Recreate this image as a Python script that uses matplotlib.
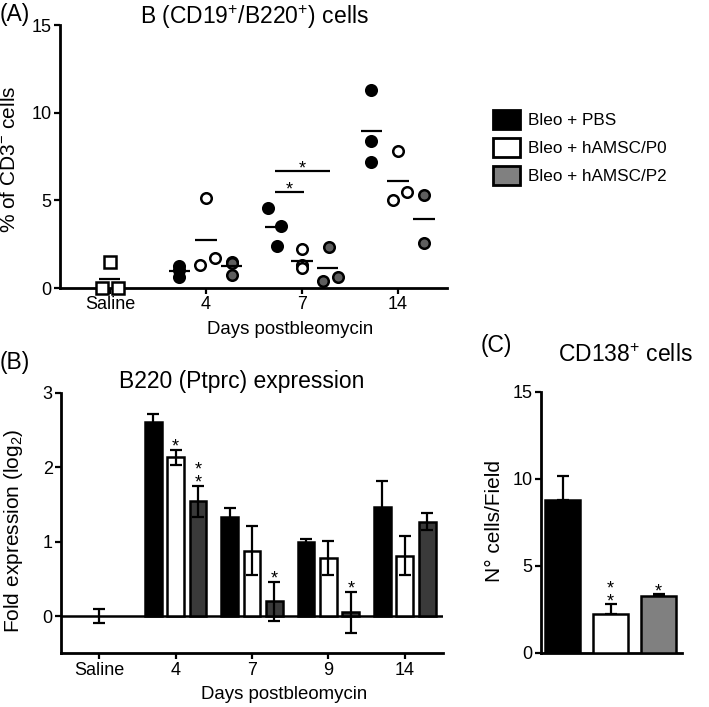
import matplotlib
matplotlib.use('Agg')
import matplotlib.pyplot as plt
import numpy as np
from matplotlib.patches import Patch

plt.rcParams['font.family'] = ['Liberation Sans', 'DejaVu Sans']
plt.rcParams['mathtext.fontset'] = 'custom'
plt.rcParams['mathtext.rm'] = 'Liberation Sans'
plt.rcParams['mathtext.it'] = 'Liberation Sans:italic'
plt.rcParams['mathtext.bf'] = 'Liberation Sans:bold'

# ---------------- data ----------------
groups = ['Bleo + PBS', 'Bleo + hAMSC/P0', 'Bleo + hAMSC/P2']

# Panel A: % of CD3- cells (individual animals)
a_days = ['Saline', '4', '7', '14']
a_saline = [1.5, 0.0, 0.0]
a_pbs = [[1.25, 1.0, 0.65], [4.56, 3.53, 2.37], [11.3, 8.36, 7.2]]
a_p0 = [[1.3, 1.72, 5.15], [2.23, 1.3, 1.15], [7.79, 5.0, 5.5]]
a_p2 = [[1.5, 1.45, 0.75], [2.35, 0.38, 0.61], [5.29, 2.58]]
a_brackets = [(0, 1, 5.48, '*'), (0, 2, 6.66, '*')]   # day 7: group i vs group j, height

# Panel B: fold expression (log2), mean and SEM
b_days = ['Saline', '4', '7', '9', '14']
b_saline, b_saline_err = 0.0, 0.09
b_pbs = [2.6, 1.33, 0.99, 1.47]
b_pbs_err = [0.11, 0.12, 0.04, 0.34]
b_p0 = [2.13, 0.88, 0.78, 0.81]
b_p0_err = [0.10, 0.33, 0.23, 0.26]
b_p2 = [1.54, 0.20, 0.05, 1.27]
b_p2_err = [0.21, 0.26, 0.28, 0.12]
b_p0_sig = ['*', '', '', '']
b_p2_sig = ['**', '*', '*', '']

# Panel C: CD138+ cells per field
c_vals = [8.75, 2.2, 3.25]
c_err = [1.43, 0.58, 0.15]
c_sig = ['', '**', '*']

# ---------------- layout / style ----------------
W, H = 709, 707
fig = plt.figure(figsize=(W / 100, H / 100), dpi=100)

def fx(px):
    return px / W

def fy(py):
    return 1 - py / H

# horizontal jitter of individual points (fraction of category spacing)
JIT_SAL = [0.0, -0.08, 0.08]
JIT = {
    0: [[0, 0, 0], [-0.07, 0.06, 0.02], [0, 0, 0]],
    1: [[-0.06, 0.09, 0], [0, 0, 0], [0, -0.05, 0.09]],
    2: [[0, 0, 0], [0.01, -0.05, 0.10], [0, 0]],
}
GOFF = [-0.28, 0.0, 0.27]
A_FACE = ['black', 'white', '#5e5e5e']
B_FACE = ['black', 'white', '#3a3a3a']
C_FACE = ['black', 'white', '#808080']

TICK_FS = 13
LAB_FS = 15
TITLE_FS = 16.5
STAR_FS = 13
SPW = 2.0

def style_axes(ax):
    for s in ['top', 'right']:
        ax.spines[s].set_visible(False)
    for s in ['left', 'bottom']:
        ax.spines[s].set_linewidth(SPW)
    ax.tick_params(width=1.6, length=4, labelsize=TICK_FS, pad=2)

def star(ax, x, y, text, base_pt=6.0):
    s = '\n'.join(['*'] * len(text))
    ax.annotate(s, (x, y), xytext=(0, base_pt - 0.79 * STAR_FS),
                textcoords='offset points', ha='center', va='bottom',
                fontsize=STAR_FS, linespacing=0.72, annotation_clip=False)

# ---------------- Panel A ----------------
axA = fig.add_axes([fx(60), fy(288), fx(387), 263 / H])
style_axes(axA)
axA.set_xlim(-0.52, 3.51)
axA.set_ylim(0, 15)
axA.set_yticks([0, 5, 10, 15])
axA.set_xticks(range(len(a_days)))
axA.set_xticklabels(a_days)

# saline
xs = [0 + j for j in JIT_SAL]
axA.plot(xs, a_saline, 's', ms=8.3, mfc='white', mec='black', mew=1.8,
         ls='none', clip_on=False, zorder=3)
axA.hlines(np.mean(a_saline), -0.11, 0.11, color='black', lw=1.6, zorder=4)

series = [a_pbs, a_p0, a_p2]
for g, ser in enumerate(series):
    for d, vals in enumerate(ser):
        cx = d + 1 + GOFF[g]
        xs = [cx + j for j in JIT[g][d]]
        axA.plot(xs, vals, 'o', ms=7.6, mfc=A_FACE[g], mec='black', mew=1.8,
                 ls='none', clip_on=False, zorder=3)
        axA.hlines(np.mean(vals), cx - 0.11, cx + 0.11, color='black',
                   lw=1.6, zorder=4)

for gi, gj, h, s in a_brackets:
    x0, x1 = 2 + GOFF[gi], 2 + GOFF[gj]
    axA.hlines(h, x0, x1 + 0.02, color='black', lw=1.6)
    star(axA, (x0 + x1) / 2 + 0.01, h, s, base_pt=5.8)

fig.text(fx(254), fy(24), r'B (CD19$^{+}$/B220$^{+}$) cells', ha='center',
         va='baseline', fontsize=TITLE_FS)
fig.text(fx(0), fy(21), '(A)', ha='left', va='baseline', fontsize=TITLE_FS)
fig.text(fx(10), fy(159), r'% of CD3$^{-}$ cells', rotation=90, ha='center',
         va='center', fontsize=LAB_FS)
fig.text(fx(290), fy(334), 'Days postbleomycin', ha='center', va='baseline',
         fontsize=13.4)

# legend
handles = [Patch(facecolor=c, edgecolor='black', linewidth=2.0) for c in C_FACE]
fig.legend(handles, groups, loc='upper left', bbox_to_anchor=(fx(493), fy(110)),
           frameon=False, borderpad=0, borderaxespad=0, handlelength=1.6,
           handleheight=1.3, handletextpad=0.45, labelspacing=0.55,
           fontsize=12.3)

# ---------------- Panel B ----------------
axB = fig.add_axes([fx(61), fy(653.3), fx(382), 260.6 / H])
style_axes(axB)
axB.set_xlim(-0.5, 4.5)
axB.set_ylim(-0.5, 3)
axB.set_yticks([0, 1, 2, 3])
axB.set_xticks(range(len(b_days)))
axB.set_xticklabels(b_days)
axB.axhline(0, color='black', lw=1.8, zorder=2)

BW = 0.22
BOFF = [-0.294, 0.0, 0.294]
ekw = dict(ecolor='black', elinewidth=1.6, capsize=4.3, capthick=1.6)
axB.errorbar([0], [b_saline], yerr=[b_saline_err], fmt='none', zorder=4, **ekw)

bvals = [b_pbs, b_p0, b_p2]
berrs = [b_pbs_err, b_p0_err, b_p2_err]
bsigs = [None, b_p0_sig, b_p2_sig]
for g in range(3):
    x = np.arange(1, len(b_days)) + BOFF[g]
    axB.bar(x, bvals[g], width=BW, color=B_FACE[g], edgecolor='black',
            linewidth=1.8, zorder=3)
    axB.errorbar(x, bvals[g], yerr=berrs[g], fmt='none', zorder=4, **ekw)
    if bsigs[g]:
        for xi, v, e, s in zip(x, bvals[g], berrs[g], bsigs[g]):
            if s:
                star(axB, xi, v + e, s)

fig.text(fx(242), fy(388), 'B220 (Ptprc) expression', ha='center',
         va='baseline', fontsize=TITLE_FS)
fig.text(fx(0), fy(369), '(B)', ha='left', va='baseline', fontsize=TITLE_FS)
fig.text(fx(14), fy(531), r'Fold expression (log$_{2}$)', rotation=90,
         ha='center', va='center', fontsize=LAB_FS)
fig.text(fx(284), fy(699), 'Days postbleomycin', ha='center', va='baseline',
         fontsize=13.4)

# ---------------- Panel C ----------------
axC = fig.add_axes([fx(541), fy(652.7), fx(140.7), 261 / H])
style_axes(axC)
axC.set_xlim(-0.448, 2.48)
axC.set_ylim(0, 15)
axC.set_yticks([0, 5, 10, 15])
axC.set_xticks([])
xc = np.arange(len(c_vals))
axC.bar(xc, c_vals, width=0.74, color=C_FACE, edgecolor='black', linewidth=1.8,
        zorder=3)
axC.errorbar(xc, c_vals, yerr=[np.zeros(len(c_vals)), c_err], fmt='none',
             zorder=2, **ekw)
for xi, v, e, s in zip(xc, c_vals, c_err, c_sig):
    if s:
        star(axC, xi, v + e, s, base_pt=5.6)

fig.text(fx(625), fy(362), r'CD138$^{+}$ cells', ha='center', va='baseline',
         fontsize=TITLE_FS)
fig.text(fx(481), fy(352), '(C)', ha='left', va='baseline', fontsize=TITLE_FS)
fig.text(fx(494), fy(521), 'N° cells/Field', rotation=90, ha='center',
         va='center', fontsize=LAB_FS)

fig.savefig('out.png', dpi=100)
